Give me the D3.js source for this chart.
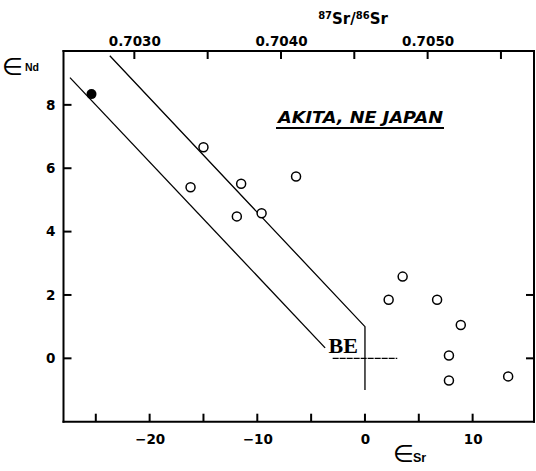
<!DOCTYPE html>
<html>
<head>
<meta charset="utf-8">
<script src="https://cdn.jsdelivr.net/npm/d3@7/dist/d3.min.js"></script>
<style>
  body { margin: 0; background: #fff; }
  svg { display: block; }
  text { font-family: "Liberation Sans", Arial, sans-serif; fill: #000; }
</style>
</head>
<body>
<div id="chart"></div>
<script>
// open circles: eps Sr / eps Nd
const sampleSr = [-15.0, -16.2, -11.5, -6.4, -11.9, -9.6, 3.5, 2.2, 6.7, 8.9, 7.8, 7.8, 13.3];
const sampleNd = [6.66, 5.40, 5.51, 5.74, 4.48, 4.58, 2.58, 1.85, 1.85, 1.05, 0.09, -0.70, -0.57];
// filled circle
const filledSr = [-25.4];
const filledNd = [8.34];

// mantle array band (upper and lower bounds)
const upperSr = [-23.7, 0, 0];
const upperNd = [9.55, 1, -1];
const lowerSr = [-27.4, -3.7];
const lowerNd = [8.86, 0.33];
// bulk earth cross
const beSr = [-3, 3];
const beNd = [0, 0];

const xTicks = [-20, -10, 0, 10];
const xMinor = [-25, -15, -5, 5];
const yTicks = [0, 2, 4, 6, 8];
const rightTicks = [0, 2];
const ratioTicks = [0.7030, 0.7040, 0.7050];
const ratioMinor = [0.7035, 0.7045, 0.7055];

const W = 536, H = 471;
const box = { l: 63.5, r: 534, t: 51, b: 421.7 };
const labelFont = '"DejaVu Sans", Verdana, sans-serif';

const svg = d3.select('#chart').append('svg')
  .attr('width', W).attr('height', H);

const x = d3.scaleLinear().domain([-28, 15.7]).range([box.l, box.r]);
const y = d3.scaleLinear().domain([-2, 9.7]).range([box.b, box.t]);
// top axis
const xr = d3.scaleLinear().domain([0.7030, 0.7050]).range([x(-21.42), x(5.82)]);

const tickLen = 8;

// frame as four lines
const frame = [
  [box.l, box.t, box.r, box.t], [box.r, box.t, box.r, box.b],
  [box.r, box.b, box.l, box.b], [box.l, box.b, box.l, box.t]
];
svg.append('g').selectAll('line').data(frame).join('line')
  .attr('x1', d => d[0]).attr('y1', d => d[1]).attr('x2', d => d[2]).attr('y2', d => d[3])
  .attr('stroke', '#000').attr('stroke-width', 2).attr('stroke-linecap', 'square');

// axis labels from d3 axes
svg.append('g').attr('transform', `translate(0,${box.b})`)
  .call(d3.axisBottom(x).tickValues(xTicks).tickSize(0).tickPadding(13)
    .tickFormat(d => d < 0 ? '\u2212' + Math.abs(d) : d));
svg.append('g').attr('transform', `translate(${box.l},0)`)
  .call(d3.axisLeft(y).tickValues(yTicks).tickSize(0).tickPadding(8));
svg.append('g').attr('transform', `translate(0,${box.t})`)
  .call(d3.axisTop(xr).tickValues(ratioTicks).tickSize(0).tickPadding(5)
    .tickFormat(d3.format('.4f')));

svg.selectAll('.domain').remove();
svg.selectAll('.tick line').remove();
svg.selectAll('.tick text')
  .style('font-size', '13.5px').style('font-weight', 'bold')
  .style('font-family', labelFont);

// inward tick marks as separate line elements
const tickSegs = []
  .concat(xTicks.concat(xMinor).map(v => [x(v), box.b, x(v), box.b - tickLen]))
  .concat(ratioTicks.concat(ratioMinor).map(v => [xr(v), box.t, xr(v), box.t + tickLen]))
  .concat(yTicks.map(v => [box.l, y(v), box.l + tickLen, y(v)]))
  .concat(rightTicks.map(v => [box.r, y(v), box.r - tickLen, y(v)]));
svg.append('g').selectAll('line').data(tickSegs).join('line')
  .attr('x1', d => d[0]).attr('y1', d => d[1]).attr('x2', d => d[2]).attr('y2', d => d[3])
  .attr('stroke', '#000').attr('stroke-width', 2);

const line = d3.line();
const pts = (sx, sy) => sx.map((v, i) => [x(v), y(sy[i])]);

svg.append('path').attr('d', line(pts(upperSr, upperNd)))
  .attr('fill', 'none').attr('stroke', '#000').attr('stroke-width', 1.3);
svg.append('path').attr('d', line(pts(lowerSr, lowerNd)))
  .attr('fill', 'none').attr('stroke', '#000').attr('stroke-width', 1.3);
svg.append('path').attr('d', line(pts(beSr, beNd)))
  .attr('fill', 'none').attr('stroke', '#000').attr('stroke-width', 1.3)
  .attr('stroke-dasharray', '6,1');

svg.append('text')
  .attr('x', x(-0.65)).attr('y', y(0) - 5)
  .attr('text-anchor', 'end')
  .style('font-family', '"Liberation Serif", "Times New Roman", serif')
  .style('font-weight', 'bold').style('font-size', '22px')
  .text('BE');

// samples
svg.append('g').selectAll('circle')
  .data(sampleSr.map((v, i) => [v, sampleNd[i]]))
  .join('circle')
  .attr('cx', d => x(d[0])).attr('cy', d => y(d[1])).attr('r', 4.5)
  .attr('fill', '#fff').attr('stroke', '#000').attr('stroke-width', 1.5);

svg.append('g').selectAll('circle')
  .data(filledSr.map((v, i) => [v, filledNd[i]]))
  .join('circle')
  .attr('cx', d => x(d[0])).attr('cy', d => y(d[1])).attr('r', 5)
  .attr('fill', '#000');

// title
svg.append('text')
  .attr('x', 278).attr('y', 123)
  .style('font-family', labelFont)
  .style('font-weight', 'bold').style('font-style', 'italic').style('font-size', '15px')
  .attr('textLength', 165).attr('lengthAdjust', 'spacingAndGlyphs')
  .text('AKITA, NE JAPAN');
svg.append('line')
  .attr('x1', 276).attr('x2', 444).attr('y1', 128).attr('y2', 128)
  .attr('stroke', '#000').attr('stroke-width', 2);

// axis names
const yName = svg.append('text').attr('x', 2).attr('y', 75);
yName.append('tspan').style('font-size', '24px').style('font-family', labelFont).text('\u2208');
yName.append('tspan').attr('dx', 2).attr('dy', -4)
  .style('font-size', '10.5px').style('font-weight', 'bold').text('Nd');

const xName = svg.append('text').attr('x', 393).attr('y', 462);
xName.append('tspan').style('font-size', '24px').style('font-family', labelFont).text('\u2208');
xName.append('tspan').attr('dx', -1)
  .style('font-size', '12.5px').style('font-weight', 'bold').text('Sr');

const rName = svg.append('text').attr('x', 353).attr('y', 24).attr('text-anchor', 'middle')
  .style('font-weight', 'bold').style('font-family', labelFont);
rName.append('tspan').style('font-size', '10px').attr('dy', -5).text('87');
rName.append('tspan').style('font-size', '15px').attr('dy', 5).text('Sr/');
rName.append('tspan').style('font-size', '10px').attr('dy', -5).text('86');
rName.append('tspan').style('font-size', '15px').attr('dy', 5).text('Sr');
</script>
</body>
</html>
